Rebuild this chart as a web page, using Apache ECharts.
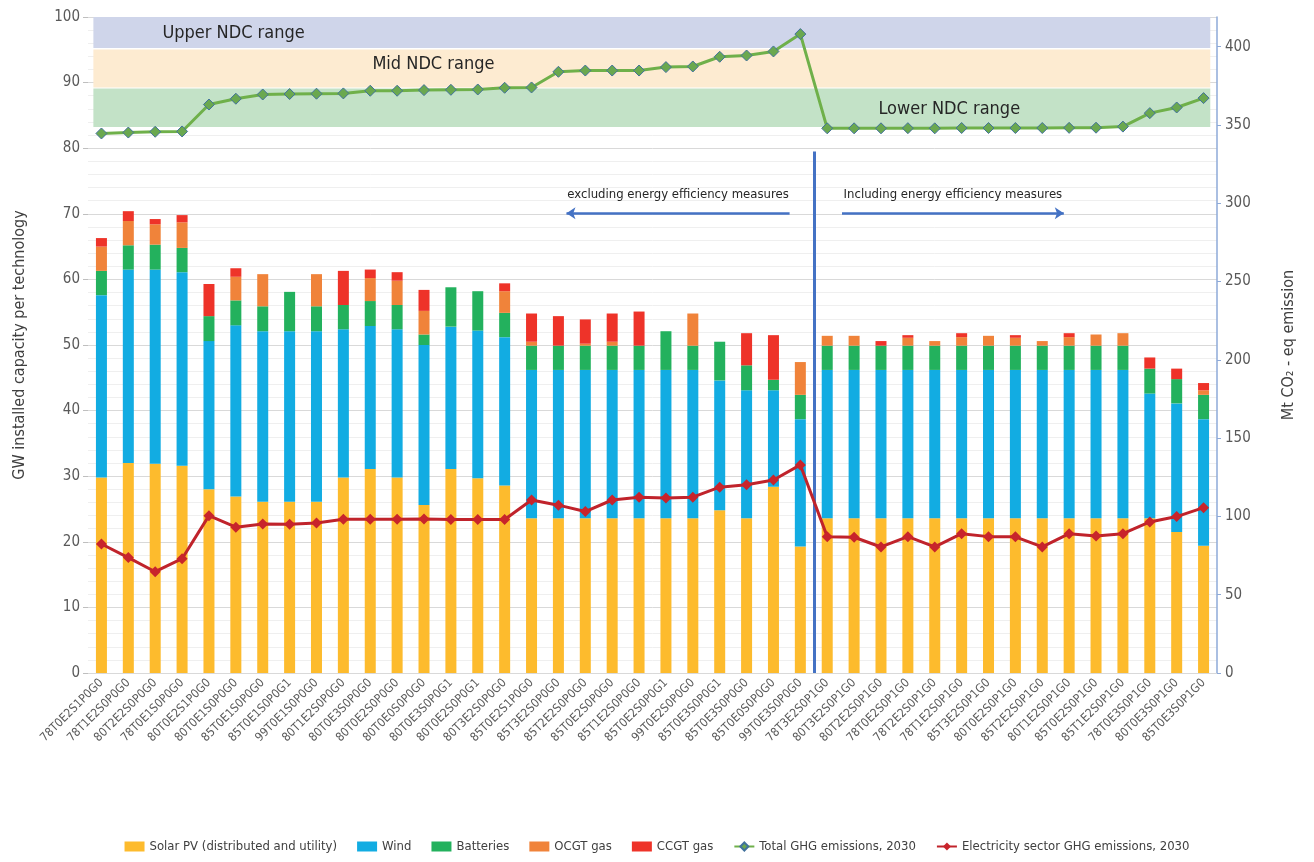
<!DOCTYPE html>
<html>
<head>
<meta charset="utf-8">
<script src="https://cdn.jsdelivr.net/npm/echarts@6/dist/echarts.min.js"></script>
<style>
  html, body { margin: 0; padding: 0; background: #ffffff; }
  #chart { width: 1314px; height: 862px; }
</style>
</head>
<body>
<div id="chart"></div>
<script>
// scenario names on the x axis
const categories = [
  '78T0E2S1P0G0', '78T1E2S0P0G0', '80T2E2S0P0G0', '78T0E1S0P0G0', '80T0E2S1P0G0',
  '80T0E1S0P0G0', '85T0E1S0P0G0', '85T0E1S0P0G1', '99T0E1S0P0G0', '80T1E2S0P0G0',
  '80T0E3S0P0G0', '80T0E2S0P0G0', '80T0E0S0P0G0', '80T0E3S0P0G1', '80T0E2S0P0G1',
  '80T3E2S0P0G0', '85T0E2S1P0G0', '85T3E2S0P0G0', '85T2E2S0P0G0', '85T0E2S0P0G0',
  '85T1E2S0P0G0', '85T0E2S0P0G1', '99T0E2S0P0G0', '85T0E3S0P0G1', '85T0E3S0P0G0',
  '85T0E0S0P0G0', '99T0E3S0P0G0',
  '78T3E2S0P1G0', '80T3E2S0P1G0', '80T2E2S0P1G0', '78T0E2S0P1G0', '78T2E2S0P1G0',
  '78T1E2S0P1G0', '85T3E2S0P1G0', '80T0E2S0P1G0', '85T2E2S0P1G0', '80T1E2S0P1G0',
  '85T0E2S0P1G0', '85T1E2S0P1G0', '78T0E3S0P1G0', '80T0E3S0P1G0', '85T0E3S0P1G0'
];

// GW installed capacity
const solar = [
  29.8, 32.0, 31.9, 31.6, 28.0, 26.9, 26.1, 26.1, 26.1, 29.8,
  31.1, 29.8, 25.6, 31.1, 29.7, 28.6, 23.6, 23.6, 23.6, 23.6,
  23.6, 23.6, 23.6, 24.8, 23.6, 28.4, 19.3,
  23.6, 23.6, 23.6, 23.6, 23.6, 23.6, 23.6, 23.6, 23.6, 23.6,
  23.6, 23.6, 23.6, 21.5, 19.4
];
const wind = [
  27.8, 29.5, 29.6, 29.5, 22.6, 26.1, 26.0, 26.0, 26.0, 22.6,
  21.8, 22.6, 24.4, 21.7, 22.5, 22.6, 22.6, 22.6, 22.6, 22.6,
  22.6, 22.6, 22.6, 19.8, 19.5, 14.7, 19.4,
  22.6, 22.6, 22.6, 22.6, 22.6, 22.6, 22.6, 22.6, 22.6, 22.6,
  22.6, 22.6, 19.0, 19.6, 19.3
];
const batteries = [
  3.7, 3.7, 3.8, 3.7, 3.8, 3.8, 3.8, 6.0, 3.8, 3.7,
  3.8, 3.7, 1.6, 6.0, 6.0, 3.7, 3.7, 3.7, 3.7, 3.7,
  3.7, 5.9, 3.7, 5.9, 3.8, 1.6, 3.7,
  3.7, 3.7, 3.7, 3.7, 3.7, 3.7, 3.7, 3.7, 3.7, 3.7,
  3.7, 3.7, 3.8, 3.7, 3.7
];
const ocgt = [
  3.7, 3.7, 3.1, 3.9, 0, 3.6, 4.9, 0, 4.9, 0,
  3.5, 3.7, 3.6, 0, 0, 3.3, 0.6, 0, 0.3, 0.6,
  0, 0, 4.9, 0, 0, 0, 5.0,
  1.5, 1.5, 0, 1.2, 0.7, 1.3, 1.5, 1.2, 0.7, 1.3,
  1.7, 1.9, 0, 0, 0.7
];
const ccgt = [
  1.3, 1.5, 0.8, 1.1, 4.9, 1.3, 0, 0, 0, 5.2,
  1.3, 1.3, 3.2, 0, 0, 1.2, 4.3, 4.5, 3.7, 4.3,
  5.2, 0, 0, 0, 4.9, 6.8, 0,
  0, 0, 0.7, 0.4, 0, 0.6, 0, 0.4, 0, 0.6,
  0, 0, 1.7, 1.6, 1.1
];

// Mt CO2-eq
const totalGhg = [
  344.6, 345.2, 345.7, 345.9, 363.1, 366.8, 369.5, 369.8, 370.0, 370.2,
  371.9, 371.9, 372.3, 372.5, 372.7, 373.8, 374.0, 384.0, 384.8, 384.8,
  384.8, 387.0, 387.4, 393.6, 394.4, 397.0, 408.1,
  347.9, 347.9, 347.9, 348.0, 347.9, 348.1, 348.1, 348.1, 348.1, 348.2,
  348.3, 349.0, 357.6, 361.2, 367.2
];
const electricityGhg = [
  82.4, 73.7, 64.7, 73.0, 100.5, 93.1, 95.2, 95.0, 95.8, 98.2,
  98.2, 98.2, 98.4, 98.0, 98.0, 98.0, 110.5, 107.2, 103.1, 110.5,
  112.3, 111.8, 112.3, 118.7, 120.3, 123.3, 132.9,
  87.1, 86.7, 80.5, 87.1, 80.5, 89.0, 87.1, 87.0, 80.5, 89.0,
  87.5, 89.0, 96.5, 99.9, 105.6
];

// NDC ranges on the emission axis [from, to]
const ndcBands = [
  { name: 'Upper NDC range', range: [399.2, 419] },
  { name: 'Mid NDC range', range: [374.0, 398.3] },
  { name: 'Lower NDC range', range: [348.7, 373.3] }
];
// split between the two scenario groups (category boundary)
const splitAt = 27;

const FONT = "'Liberation Sans Narrow', 'DejaVu Sans Condensed', 'Liberation Sans', sans-serif";
const bandColors = ['#cfd5ea', '#fdebd1', '#c3e2c7'];
const bandLabelPos = [[69, 16], [279, 15], [785, 21]];

const chart = echarts.init(document.getElementById('chart'), null, { renderer: 'canvas' });

function barSeries(name, data, color) {
  return {
    name: name,
    type: 'bar',
    stack: 'cap',
    barWidth: 11,
    data: data,
    itemStyle: { color: color }
  };
}

const option = {
  animation: false,
  backgroundColor: '#ffffff',
  textStyle: { fontFamily: FONT },
  grid: { left: 88, right: 97, top: 17, bottom: 189 },
  legend: {
    bottom: 4,
    left: 'center',
    itemWidth: 20,
    itemHeight: 10,
    itemGap: 20,
    textStyle: { fontSize: 13, color: '#404040', fontFamily: FONT },
    data: [
      { name: 'Solar PV (distributed and utility)', icon: 'rect' },
      { name: 'Wind', icon: 'rect' },
      { name: 'Batteries', icon: 'rect' },
      { name: 'OCGT gas', icon: 'rect' },
      { name: 'CCGT gas', icon: 'rect' },
      'Total GHG emissions, 2030',
      'Electricity sector GHG emissions, 2030'
    ]
  },
  xAxis: [
    {
      type: 'category',
      data: categories,
      axisLine: { lineStyle: { color: '#d9d9d9', width: 1 } },
      axisTick: { show: false },
      axisLabel: { rotate: 45, fontSize: 12, color: '#595959', margin: 8, interval: 0, fontFamily: FONT }
    },
    { type: 'value', min: 0, max: 42, show: false }
  ],
  yAxis: [
    {
      type: 'value',
      min: 0,
      max: 100,
      interval: 10,
      name: 'GW installed capacity per technology',
      nameLocation: 'middle',
      nameRotate: 90,
      nameGap: 60,
      nameTextStyle: { fontSize: 16, color: '#404040', fontFamily: FONT },
      axisLine: { show: false },
      axisTick: { show: true, length: 5, lineStyle: { color: '#bfbfbf' } },
      axisLabel: { fontSize: 15, color: '#595959', margin: 8 },
      splitLine: { lineStyle: { color: '#d9d9d9', width: 1 } },
      minorTick: { show: false, splitNumber: 5 },
      minorSplitLine: { show: true, lineStyle: { color: '#efefef', width: 1 } }
    },
    {
      type: 'value',
      min: 0,
      max: 419,
      interval: 50,
      position: 'right',
      name: 'Mt CO\u2082 - eq emission',
      nameLocation: 'middle',
      nameRotate: 90,
      nameGap: 64,
      nameTextStyle: { fontSize: 16, color: '#404040', fontFamily: FONT },
      axisLine: { show: true, lineStyle: { color: '#8eaad8', width: 1.5 } },
      axisTick: { show: true, length: 4, lineStyle: { color: '#8eaad8' } },
      axisLabel: { fontSize: 15, color: '#595959', margin: 8, showMaxLabel: false },
      splitLine: { show: false }
    }
  ],
  series: [
    // NDC bands, divider and arrows on a hidden value axis
    {
      name: 'bands',
      type: 'line',
      xAxisIndex: 1,
      yAxisIndex: 1,
      data: [],
      silent: true,
      markArea: {
        silent: true,
        data: ndcBands.map((b, i) => [
          {
            name: b.name,
            xAxis: 0.2,
            yAxis: b.range[0],
            itemStyle: { color: bandColors[i] },
            label: {
              show: true,
              position: bandLabelPos[i],
              align: 'left',
              verticalAlign: 'middle',
              fontSize: 18,
              color: '#262626',
              fontFamily: FONT
            }
          },
          { xAxis: 41.75, yAxis: b.range[1] }
        ])
      }
    },
    {
      name: 'notes',
      type: 'line',
      xAxisIndex: 1,
      yAxisIndex: 0,
      data: [],
      silent: true,
      markLine: {
        silent: true,
        animation: false,
        data: [
          [
            { coord: [splitAt, 79.5], symbol: 'none', lineStyle: { color: '#4472c4', width: 3, type: 'solid' }, label: { show: false } },
            { coord: [splitAt, 0], symbol: 'none' }
          ],
          [
            {
              coord: [17.8, 70.1], symbol: 'arrow', symbolSize: 9,
              lineStyle: { color: '#4472c4', width: 2.5, type: 'solid' },
              label: { show: true, position: 'middle', formatter: 'excluding energy efficiency measures', fontSize: 13, color: '#262626', distance: 12, fontFamily: FONT }
            },
            { coord: [26.1, 70.1], symbol: 'none' }
          ],
          [
            {
              coord: [28.05, 70.1], symbol: 'none',
              lineStyle: { color: '#4472c4', width: 2.5, type: 'solid' },
              label: { show: true, position: 'middle', formatter: 'Including energy efficiency measures', fontSize: 13, color: '#262626', distance: 12, fontFamily: FONT }
            },
            { coord: [36.3, 70.1], symbol: 'arrow', symbolSize: 9 }
          ]
        ]
      }
    },
    barSeries('Solar PV (distributed and utility)', solar, '#fdbb2d'),
    barSeries('Wind', wind, '#12ace2'),
    barSeries('Batteries', batteries, '#23b15d'),
    barSeries('OCGT gas', ocgt, '#f0833a'),
    barSeries('CCGT gas', ccgt, '#ee3329'),
    {
      name: 'Total GHG emissions, 2030',
      type: 'line',
      yAxisIndex: 1,
      data: totalGhg,
      symbol: 'diamond',
      symbolSize: 11,
      lineStyle: { color: '#6fb04a', width: 3 },
      itemStyle: { color: '#6aa84f', borderColor: '#41719c', borderWidth: 1 },
      z: 5
    },
    {
      name: 'Electricity sector GHG emissions, 2030',
      type: 'line',
      yAxisIndex: 1,
      data: electricityGhg,
      symbol: 'diamond',
      symbolSize: 11,
      lineStyle: { color: '#c0232b', width: 3 },
      itemStyle: { color: '#c8242b' },
      z: 5
    }
  ]
};

chart.setOption(option);
</script>
</body>
</html>
